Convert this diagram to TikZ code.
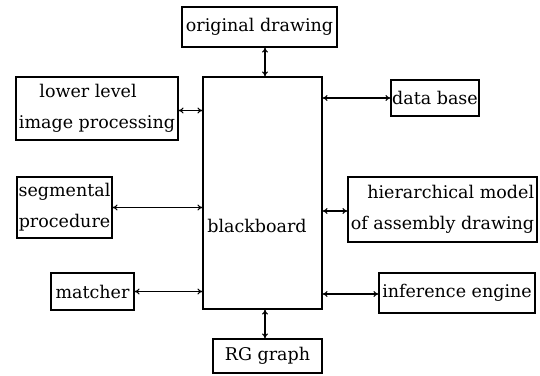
\documentclass[tikz,border=0pt]{standalone}
\usepackage{fontspec}
\setmainfont{DejaVu Serif}
\usetikzlibrary{arrows.meta,calc}
\begin{document}
\begin{tikzpicture}[x=1pt,y=-1pt,
  box/.style={draw,line width=1.2pt,inner sep=0pt,font=\fontsize{17.5}{31}\selectfont},
  link/.style={line width=1.1pt,{To[length=5pt,width=6pt]}-{To[length=5pt,width=6pt]}}]
\useasboundingbox (0,0) rectangle (540,375);
\node[box,minimum width=119pt,minimum height=232pt] (bb) at (262.5,193) {};
\node[font=\fontsize{17.5}{31}\selectfont] (bbtext) at (257,226) {blackboard};
\node[box,minimum width=155pt,minimum height=40pt] (orig) at (259.5,27) {original drawing};
\node[box,minimum width=162pt,minimum height=63pt,align=center] (lower) at (97,108.5) {\hspace*{-18pt}lower level\\image processing};
\node[box,minimum width=88pt,minimum height=36pt] (data) at (435,98) {data base};
\node[box,minimum width=95pt,minimum height=61pt,align=center] (seg) at (64.5,207.5) {segmental\\procedure};
\node[box,minimum width=189pt,minimum height=65pt,align=right] (hier) at (442.5,209.5) {hierarchical model\\of assembly drawing};
\node[box,minimum width=83pt,minimum height=37pt] (match) at (92.5,291.5) {matcher};
\node[box,minimum width=156pt,minimum height=40pt] (inf) at (457,293) {inference engine};
\node[box,minimum width=109pt,minimum height=34pt] (rg) at (267.5,356) {RG graph};
\draw[link] ([xshift=5.5pt]orig.south) -- ([xshift=5.5pt]orig.south |- bb.north);
\draw[link] ([yshift=-2pt]lower.east) -- ([yshift=-2pt]lower.east -| bb.west);
\draw[link] (data.west) -- (data.west -| bb.east);
\draw[link] (seg.east) -- (seg.east -| bb.west);
\draw[link] ([yshift=-1.5pt]hier.west) -- ([yshift=-1.5pt]hier.west -| bb.east);
\draw[link] (match.east) -- (match.east -| bb.west);
\draw[link] ([yshift=-1pt]inf.west) -- ([yshift=-1pt]inf.west -| bb.east);
\draw[link] ([xshift=-2.5pt]rg.north) -- ([xshift=-2.5pt]rg.north |- bb.south);
\end{tikzpicture}
\end{document}
